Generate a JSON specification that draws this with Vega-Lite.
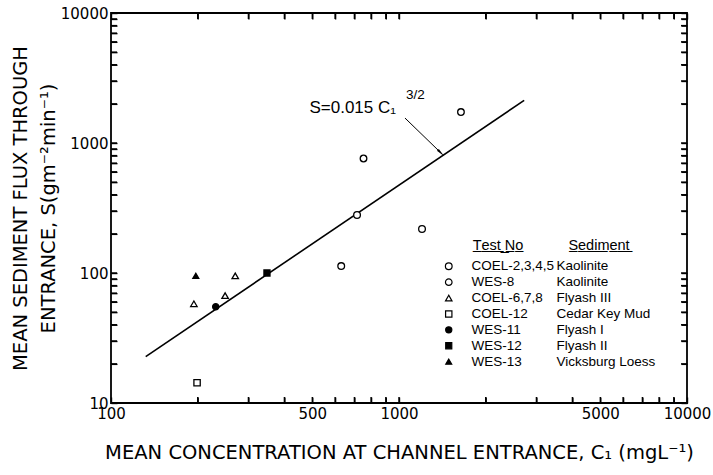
{
  "$schema": "https://vega.github.io/schema/vega-lite/v6.json",
  "width": 576,
  "height": 390,
  "autosize": {"type": "none"},
  "padding": {"left": 111, "top": 13, "right": 26, "bottom": 72},
  "background": "white",
  "config": {
    "view": {"stroke": "black", "strokeWidth": 1.8},
    "font": "Liberation Sans",
    "axis": {
      "grid": false,
      "domain": false,
      "ticks": true,
      "tickColor": "black",
      "tickOpacity": 1,
      "tickWidth": 1.4,
      "tickRound": false,
      "labelColor": "black",
      "labelFont": "DejaVu Sans",
      "labelFontSize": 15,
      "labelOverlap": false,
      "labelFlush": false,
      "labelBound": false,
      "titleColor": "black",
      "titleFont": "DejaVu Sans",
      "titleFontWeight": "normal",
      "titleFontSize": 19.5
    },
    "legend": {
      "labelFont": "Liberation Sans",
      "labelFontSize": 13.5,
      "labelColor": "black",
      "titleFont": "Liberation Sans",
      "titleFontSize": 14.5,
      "titleFontWeight": "normal",
      "titleColor": "black",
      "titleAnchor": "middle",
      "titlePadding": 6,
      "rowPadding": 0.9,
      "padding": 0
    }
  },
  "datasets": {
    "fit": [
      {"C": 132, "S": 22.75},
      {"C": 2720, "S": 2127.9}
    ],
    "obs": [
      {"test": "COEL-2,3,4,5", "sediment": "Kaolinite", "order": 1, "C": 630, "S": 113},
      {"test": "COEL-2,3,4,5", "sediment": "Kaolinite", "order": 1, "C": 715, "S": 279},
      {"test": "COEL-2,3,4,5", "sediment": "Kaolinite", "order": 1, "C": 1202, "S": 218},
      {"test": "WES-8", "sediment": "Kaolinite", "order": 2, "C": 753, "S": 760},
      {"test": "WES-8", "sediment": "Kaolinite", "order": 2, "C": 1641, "S": 1730},
      {"test": "COEL-6,7,8", "sediment": "Flyash III", "order": 3, "C": 194, "S": 58},
      {"test": "COEL-6,7,8", "sediment": "Flyash III", "order": 3, "C": 249, "S": 67},
      {"test": "COEL-6,7,8", "sediment": "Flyash III", "order": 3, "C": 270, "S": 95},
      {"test": "COEL-12", "sediment": "Cedar Key Mud", "order": 4, "C": 199, "S": 14.3},
      {"test": "WES-11", "sediment": "Flyash I", "order": 5, "C": 231, "S": 55},
      {"test": "WES-12", "sediment": "Flyash II", "order": 6, "C": 348, "S": 100},
      {"test": "WES-13", "sediment": "Vicksburg Loess", "order": 7, "C": 197, "S": 95}
    ],
    "note": [
      {"C": 1049, "S": 1556, "C2": 1388, "S2": 853, "label": "S=0.015 C₁", "power": "3/2"}
    ],
    "xticks": [
      {"C": 200}, {"C": 300}, {"C": 400}, {"C": 500}, {"C": 600}, {"C": 700}, {"C": 800}, {"C": 900}, {"C": 1000},
      {"C": 2000}, {"C": 3000}, {"C": 4000}, {"C": 5000}, {"C": 6000}, {"C": 7000}, {"C": 8000}, {"C": 9000}
    ],
    "yticks": [
      {"S": 20}, {"S": 30}, {"S": 40}, {"S": 50}, {"S": 60}, {"S": 70}, {"S": 80}, {"S": 90}, {"S": 100},
      {"S": 200}, {"S": 300}, {"S": 400}, {"S": 500}, {"S": 600}, {"S": 700}, {"S": 800}, {"S": 900}, {"S": 1000},
      {"S": 2000}, {"S": 3000}, {"S": 4000}, {"S": 5000}, {"S": 6000}, {"S": 7000}, {"S": 8000}, {"S": 9000}
    ]
  },
  "layer": [
    {
      "data": {"name": "fit"},
      "mark": {"type": "line", "color": "black", "strokeWidth": 1.6},
      "encoding": {
        "x": {
          "field": "C",
          "type": "quantitative",
          "scale": {"type": "log", "domain": [100, 10000], "nice": false},
          "axis": {
            "orient": "bottom",
            "offset": -6,
            "tickSize": 6,
            "labelPadding": 3,
            "values": [100, 200, 300, 400, 500, 600, 700, 800, 900, 1000, 2000, 3000, 4000, 5000, 6000, 7000, 8000, 9000, 10000],
            "labelExpr": "indexof([100, 500, 1000, 5000, 10000], datum.value) >= 0 ? format(datum.value, 'd') : ''",
            "title": "MEAN CONCENTRATION AT CHANNEL ENTRANCE, C₁ (mgL⁻¹)",
            "titlePadding": 22
          }
        },
        "y": {
          "field": "S",
          "type": "quantitative",
          "scale": {"type": "log", "domain": [10, 10000], "nice": false},
          "axis": {
            "orient": "left",
            "tickSize": -6,
            "labelPadding": 9,
            "values": [10, 20, 30, 40, 50, 60, 70, 80, 90, 100, 200, 300, 400, 500, 600, 700, 800, 900, 1000, 2000, 3000, 4000, 5000, 6000, 7000, 8000, 9000, 10000],
            "labelExpr": "indexof([10, 100, 1000, 10000], datum.value) >= 0 ? format(datum.value, 'd') : ''",
            "title": ["MEAN SEDIMENT FLUX THROUGH", "ENTRANCE, S(gm⁻²min⁻¹)"],
            "titleLineHeight": 28,
            "titlePadding": 2
          }
        }
      }
    },
    {
      "data": {"name": "xticks"},
      "mark": {"type": "tick", "orient": "vertical", "color": "black", "size": 6, "thickness": 1.4, "yOffset": -3, "opacity": 1},
      "encoding": {
        "x": {"field": "C", "type": "quantitative", "axis": null},
        "y": {"datum": 10, "type": "quantitative", "axis": null}
      }
    },
    {
      "data": {"name": "xticks"},
      "mark": {"type": "tick", "orient": "vertical", "color": "black", "size": 6, "thickness": 1.4, "yOffset": 3, "opacity": 1},
      "encoding": {
        "x": {"field": "C", "type": "quantitative", "axis": null},
        "y": {"datum": 10000, "type": "quantitative", "axis": null}
      }
    },
    {
      "data": {"name": "yticks"},
      "mark": {"type": "tick", "orient": "horizontal", "color": "black", "size": 6, "thickness": 1.4, "xOffset": 3, "opacity": 1},
      "encoding": {
        "y": {"field": "S", "type": "quantitative", "axis": null},
        "x": {"datum": 100, "type": "quantitative", "axis": null}
      }
    },
    {
      "data": {"name": "yticks"},
      "mark": {"type": "tick", "orient": "horizontal", "color": "black", "size": 6, "thickness": 1.4, "xOffset": -3, "opacity": 1},
      "encoding": {
        "y": {"field": "S", "type": "quantitative", "axis": null},
        "x": {"datum": 10000, "type": "quantitative", "axis": null}
      }
    },
    {
      "data": {"name": "obs"},
      "mark": {"type": "point", "stroke": "black", "strokeWidth": 1.3, "opacity": 1},
      "encoding": {
        "x": {
          "field": "C",
          "type": "quantitative",
          "axis": {
            "orient": "top",
            "offset": -6,
            "tickSize": 6,
            "values": [100, 200, 300, 400, 500, 600, 700, 800, 900, 1000, 2000, 3000, 4000, 5000, 6000, 7000, 8000, 9000, 10000],
            "labels": false,
            "title": null
          }
        },
        "y": {
          "field": "S",
          "type": "quantitative",
          "axis": {
            "orient": "right",
            "tickSize": -6,
            "values": [10, 20, 30, 40, 50, 60, 70, 80, 90, 100, 200, 300, 400, 500, 600, 700, 800, 900, 1000, 2000, 3000, 4000, 5000, 6000, 7000, 8000, 9000, 10000],
            "labels": false,
            "title": null
          }
        },
        "shape": {
          "field": "test",
          "type": "nominal",
          "scale": {
            "domain": ["COEL-2,3,4,5", "WES-8", "COEL-6,7,8", "COEL-12", "WES-11", "WES-12", "WES-13"],
            "range": ["circle", "circle", "triangle-up", "square", "circle", "square", "triangle-up"]
          },
          "legend": {
            "orient": "none",
            "legendX": 331,
            "legendY": 226,
            "title": "T̲e̲s̲t̲ ̲N̲o̲",
            "labelOffset": 16,
            "symbolStrokeColor": "black",
            "symbolStrokeWidth": 1.2,
            "symbolOpacity": 1
          }
        },
        "fill": {
          "field": "test",
          "type": "nominal",
          "scale": {
            "domain": ["COEL-2,3,4,5", "WES-8", "COEL-6,7,8", "COEL-12", "WES-11", "WES-12", "WES-13"],
            "range": ["white", "white", "white", "white", "black", "black", "black"]
          }
        },
        "size": {
          "field": "test",
          "type": "nominal",
          "scale": {
            "domain": ["COEL-2,3,4,5", "WES-8", "COEL-6,7,8", "COEL-12", "WES-11", "WES-12", "WES-13"],
            "range": [45, 35, 40, 30, 25, 45, 28]
          }
        },
        "opacity": {
          "field": "test",
          "type": "ordinal",
          "sort": {"field": "order", "op": "min"},
          "scale": {"range": [1, 1, 1, 1, 1, 1, 1]},
          "legend": {
            "orient": "none",
            "legendX": 432,
            "legendY": 226,
            "title": "S̲e̲d̲i̲m̲e̲n̲t̲",
            "symbolSize": 0,
            "symbolStrokeWidth": 0,
            "labelOffset": 0,
            "labelExpr": "{'COEL-2,3,4,5': 'Kaolinite', 'WES-8': 'Kaolinite', 'COEL-6,7,8': 'Flyash III', 'COEL-12': 'Cedar Key Mud', 'WES-11': 'Flyash I', 'WES-12': 'Flyash II', 'WES-13': 'Vicksburg Loess'}[datum.label]"
          }
        }
      }
    },
    {
      "data": {"name": "note"},
      "mark": {"type": "rule", "color": "black", "strokeWidth": 1},
      "encoding": {
        "x": {"field": "C", "type": "quantitative", "axis": null},
        "y": {"field": "S", "type": "quantitative", "axis": null},
        "x2": {"field": "C2"},
        "y2": {"field": "S2"}
      }
    },
    {
      "data": {"name": "note"},
      "mark": {"type": "point", "shape": "wedge", "angle": 135, "size": 110, "filled": true, "color": "black", "opacity": 1},
      "encoding": {
        "x": {"field": "C2", "type": "quantitative", "axis": null},
        "y": {"field": "S2", "type": "quantitative", "axis": null}
      }
    },
    {
      "data": {"name": "note"},
      "mark": {"type": "text", "align": "right", "baseline": "middle", "dx": -9, "dy": -10, "font": "Liberation Sans", "fontSize": 17, "color": "black"},
      "encoding": {
        "x": {"field": "C", "type": "quantitative", "axis": null},
        "y": {"field": "S", "type": "quantitative", "axis": null},
        "text": {"field": "label"}
      }
    },
    {
      "data": {"name": "note"},
      "mark": {"type": "text", "align": "left", "baseline": "middle", "dx": 1, "dy": -23, "font": "Liberation Sans", "fontSize": 13.5, "color": "black"},
      "encoding": {
        "x": {"field": "C", "type": "quantitative", "axis": null},
        "y": {"field": "S", "type": "quantitative", "axis": null},
        "text": {"field": "power"}
      }
    }
  ]
}
